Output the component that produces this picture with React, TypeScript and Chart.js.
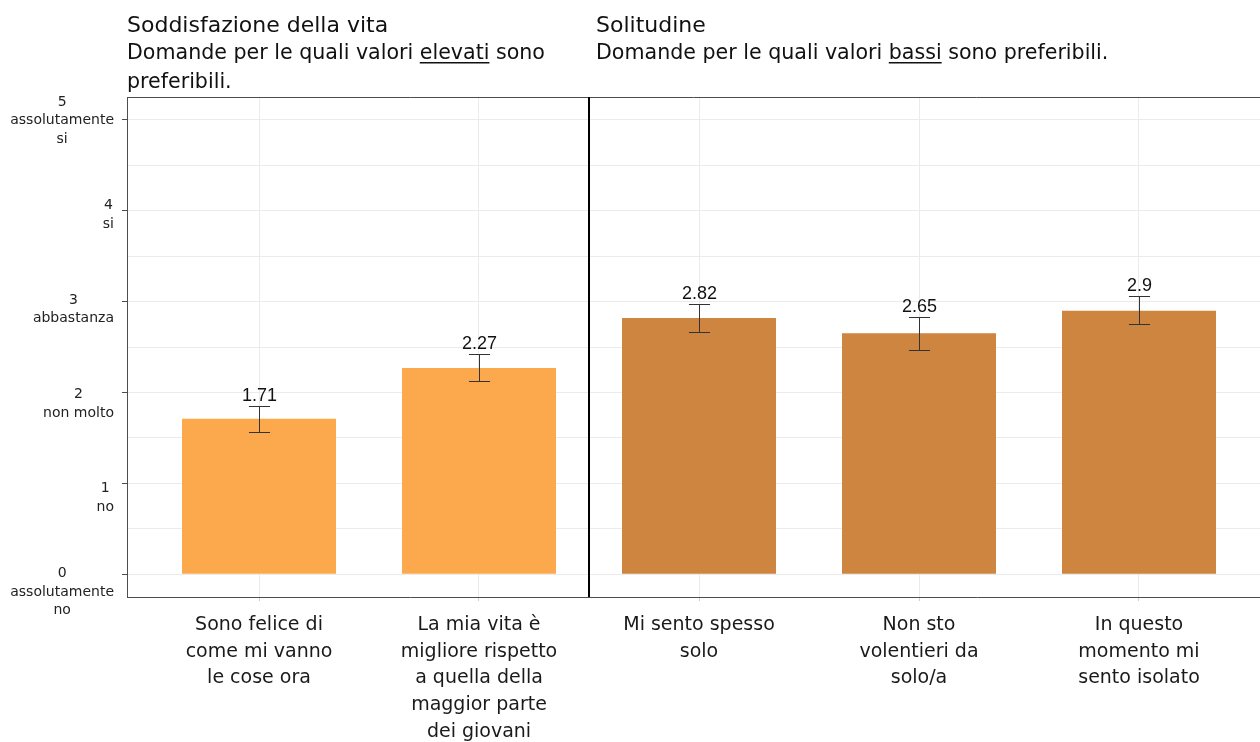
import React, { useEffect, useRef } from "react";
import { Chart, registerables } from "chart.js";

Chart.register(...registerables);

// ---- data ----
const categories: string[][] = [
  ["Sono felice di", "come mi vanno", "le cose ora"],
  ["La mia vita è", "migliore rispetto", "a quella della", "maggior parte", "dei giovani"],
  ["Mi sento spesso", "solo"],
  ["Non sto", "volentieri da", "solo/a"],
  ["In questo", "momento mi", "sento isolato"],
];
const values = [1.71, 2.27, 2.82, 2.65, 2.9];
const errLow = [1.56, 2.13, 2.67, 2.47, 2.75];
const errHigh = [1.85, 2.42, 2.97, 2.83, 3.06];
const valueLabels = ["1.71", "2.27", "2.82", "2.65", "2.9"];
const groupOf = [0, 0, 1, 1, 1];
const groupColors = ["#FCA94E", "#CD853F"];
const groupTitles = ["Soddisfazione della vita", "Solitudine"];
const groupSubtitles = [
  [
    [{ t: "Domande per le quali valori " }, { t: "elevati", u: true }, { t: " sono" }],
    [{ t: "preferibili." }],
  ],
  [[{ t: "Domande per le quali valori " }, { t: "bassi", u: true }, { t: " sono preferibili." }]],
];
const groupDivider = 2.5;
const yTickValues = [0, 1, 2, 3, 4, 5];
const yTickLabels: string[][] = [
  ["0", "assolutamente", "no"],
  ["1", "no"],
  ["2", "non molto"],
  ["3", "abbastanza"],
  ["4", "si"],
  ["5", "assolutamente", "si"],
];
const yGridValues = [0, 0.5, 1, 1.5, 2, 2.5, 3, 3.5, 4, 4.5, 5];

const FONT = "'DejaVu Sans', sans-serif";

const decorPlugin = {
  id: "decor",
  beforeDatasetsDraw(chart: any) {
    const { ctx, chartArea } = chart;
    ctx.save();
    ctx.strokeStyle = "#4D4D4D";
    ctx.lineWidth = 1;
    ctx.beginPath();
    ctx.moveTo(chartArea.left, chartArea.top + 0.5);
    ctx.lineTo(chartArea.right, chartArea.top + 0.5);
    ctx.stroke();
    ctx.restore();
  },
  afterDatasetsDraw(chart: any) {
    const { ctx, chartArea, scales } = chart;
    const x = scales.x;
    const y = scales.y;
    ctx.save();
    // divider
    const dx = Math.round(x.getPixelForValue(groupDivider));
    ctx.strokeStyle = "#000";
    ctx.lineWidth = 2;
    ctx.beginPath();
    ctx.moveTo(dx, chartArea.top);
    ctx.lineTo(dx, chartArea.bottom);
    ctx.stroke();

    // error bars + value labels
    const capHalf = 0.048 * (x.getPixelForValue(2) - x.getPixelForValue(1));
    ctx.strokeStyle = "#333";
    ctx.lineWidth = 1;
    values.forEach((v, i) => {
      const px = Math.round(x.getPixelForValue(i + 1)) + 0.5;
      const yl = Math.round(y.getPixelForValue(errLow[i])) + 0.5;
      const yh = Math.round(y.getPixelForValue(errHigh[i])) + 0.5;
      ctx.beginPath();
      ctx.moveTo(px, yl);
      ctx.lineTo(px, yh);
      ctx.moveTo(px - capHalf, yl);
      ctx.lineTo(px + capHalf, yl);
      ctx.moveTo(px - capHalf, yh);
      ctx.lineTo(px + capHalf, yh);
      ctx.stroke();
      ctx.fillStyle = "#111";
      ctx.font = "18px 'Liberation Sans', Arial, sans-serif";
      ctx.textAlign = "center";
      ctx.textBaseline = "alphabetic";
      ctx.fillText(valueLabels[i], px, yh - 6);
    });

    // y labels (block right aligned, lines centered)
    ctx.font = `14px ${FONT}`;
    ctx.fillStyle = "#222";
    ctx.textBaseline = "middle";
    ctx.textAlign = "center";
    const lh = 18.5;
    const rightEdge = chartArea.left - 13;
    yTickValues.forEach((v, i) => {
      const lines = yTickLabels[i];
      const w = Math.max(...lines.map((l) => ctx.measureText(l).width));
      const cx = rightEdge - w / 2;
      const cy = y.getPixelForValue(v) + 1 + (5 - v) * 3.4;
      const start = cy - ((lines.length - 1) * lh) / 2;
      lines.forEach((l, k) => ctx.fillText(l, cx, start + k * lh));
    });

    // titles
    ctx.textAlign = "left";
    ctx.textBaseline = "alphabetic";
    ctx.fillStyle = "#111";
    const titleX = [chartArea.left, dx + 7];
    groupTitles.forEach((t, g) => {
      ctx.font = `22px ${FONT}`;
      ctx.fillText(t, titleX[g], 32);
      ctx.font = `20.6px ${FONT}`;
      groupSubtitles[g].forEach((line: any[], li: number) => {
        let cx = titleX[g];
        const by = 59 + li * 29;
        line.forEach((seg: any) => {
          const w = ctx.measureText(seg.t).width;
          ctx.fillText(seg.t, cx, by);
          if (seg.u) {
            ctx.fillRect(cx, by + 3, w, 1.5);
          }
          cx += w;
        });
      });
    });
    ctx.restore();
  },
};

export default function App() {
  const ref = useRef<HTMLCanvasElement | null>(null);
  useEffect(() => {
    if (!ref.current) return;
    const chart = new Chart(ref.current, {
      type: "bar",
      data: {
        datasets: [
          {
            data: values.map((v, i) => ({ x: i + 1, y: v })),
            backgroundColor: values.map((_, i) => groupColors[groupOf[i]]),
            borderWidth: 0,
            categoryPercentage: 1,
            barPercentage: 0.7,
          },
        ],
      },
      options: {
        responsive: false,
        animation: false,
        devicePixelRatio: 1,
        layout: { padding: { top: 97, left: 0, right: 0, bottom: 0 } },
        plugins: { legend: { display: false }, tooltip: { enabled: false }, title: { display: false } },
        scales: {
          x: {
            type: "linear",
            offset: false,
            min: 0.4,
            max: 0.4 + 1133 / 220,
            afterBuildTicks: (s: any) => {
              s.ticks = categories.map((_, i) => ({ value: i + 1 }));
            },
            afterFit: (s: any) => {
              s.height = 145;
            },
            grid: { offset: false, color: "#EBEBEB", lineWidth: 1, drawTicks: true, tickLength: 4, tickColor: "#D0D0D0" },
            border: { display: true, color: "#4D4D4D", width: 1 },
            ticks: {
              autoSkip: false,
              maxRotation: 0,
              padding: 11,
              color: "#1a1a1a",
              font: { family: FONT, size: 19, lineHeight: 1.4 },
              callback: (v: any) => categories[Math.round(Number(v)) - 1] || "",
            },
          },
          y: {
            type: "linear",
            min: -0.25,
            max: 5.25,
            afterBuildTicks: (s: any) => {
              s.ticks = yGridValues.map((v) => ({ value: v }));
            },
            afterFit: (s: any) => {
              s.width = 127;
            },
            grid: {
              color: "#EBEBEB",
              lineWidth: 1,
              drawTicks: true,
              tickLength: 5,
              tickColor: (c: any) => (c.tick && Number.isInteger(c.tick.value) ? "#4D4D4D" : "rgba(0,0,0,0)"),
            },
            border: { display: true, color: "#4D4D4D", width: 1 },
            ticks: { display: false },
          },
        },
      },
      plugins: [decorPlugin],
    } as any);
    return () => chart.destroy();
  }, []);
  return (
    <div style={{ position: "absolute", left: 0, top: 0, width: 1260, height: 742, background: "#fff" }}>
      <canvas ref={ref} width={1260} height={742} style={{ width: 1260, height: 742, display: "block" }} />
    </div>
  );
}
